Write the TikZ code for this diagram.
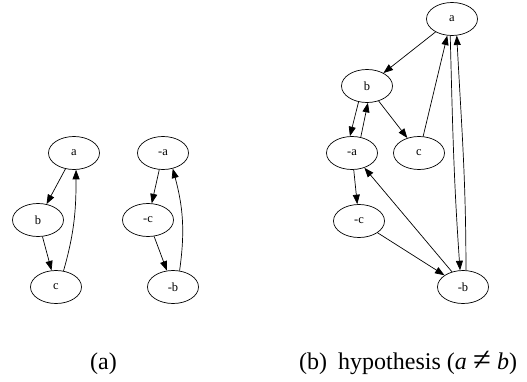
\documentclass[tikz,border=0pt]{standalone}
\usepackage{fontspec}
\setmainfont{Liberation Serif}
\usetikzlibrary{shapes.geometric,arrows.meta}
\begin{document}
\begin{tikzpicture}[x=1pt,y=1pt,
  vtx/.style={draw,ellipse,minimum width=51pt,minimum height=33pt,inner sep=0pt,line width=0.7pt,font=\fontsize{12.5}{14}\selectfont},
  edge/.style={-{Triangle[length=9.5pt,width=7pt]},line width=0.7pt},
  captext/.style={font=\fontsize{24}{28}\selectfont,inner sep=0pt}]
\useasboundingbox (0,0) rectangle (527,381);
% (a)
\node[vtx] (a)  at (74,228)  {a};
\node[vtx] (b)  at (38,161)  {b};
\node[vtx] (c)  at (56,94)   {c};
\node[vtx] (na) at (163,228) {-a};
\node[vtx] (nc) at (148,161) {-c};
\node[vtx] (nb) at (173,94)  {-b};
\draw[edge] (a) -- (b);
\draw[edge] (b) -- (c);
\draw[edge] (c.65) to[out=74,in=-90] (a.-83);
\draw[edge] (na) -- (nc);
\draw[edge] (nc) -- (nb);
\draw[edge] (nb.68) to[out=82,in=-75] (na.-58);
% (b)
\node[vtx] (A)  at (452,362) {a};
\node[vtx] (B)  at (367,295) {b};
\node[vtx] (NA) at (352,228) {-a};
\node[vtx] (C)  at (419,228) {c};
\node[vtx] (NC) at (359,160) {-c};
\node[vtx] (NB) at (463,94)  {-b};
\draw[edge] (A) -- (B);
\draw[edge] (B.-118) -- (NA.97);
\draw[edge] (NA.61) -- (B.-87);
\draw[edge] (B) -- (C);
\draw[edge] (C.76) -- (A.-106);
\draw[edge] (NA) -- (NC);
\draw[edge] (NB.126) -- (NA.-50);
\draw[edge] (NC) -- (NB);
\draw[edge] (A.-96) to[out=-88.5,in=94] (NB.100);
\draw[edge] (NB.80) to[out=90,in=-87] (A.-74);
% captions
\node[captext,anchor=base] (capa) at (103.5,12) {(a)};
\node[captext,anchor=base west] (capb) at (299,12) {(b)\hspace{0.46em}hypothesis (\textit{a}\hspace{0.26em}\raisebox{-0.08em}{\scalebox{1.35}{≠}}\hspace{0.26em}\textit{b})};
\end{tikzpicture}
\end{document}
